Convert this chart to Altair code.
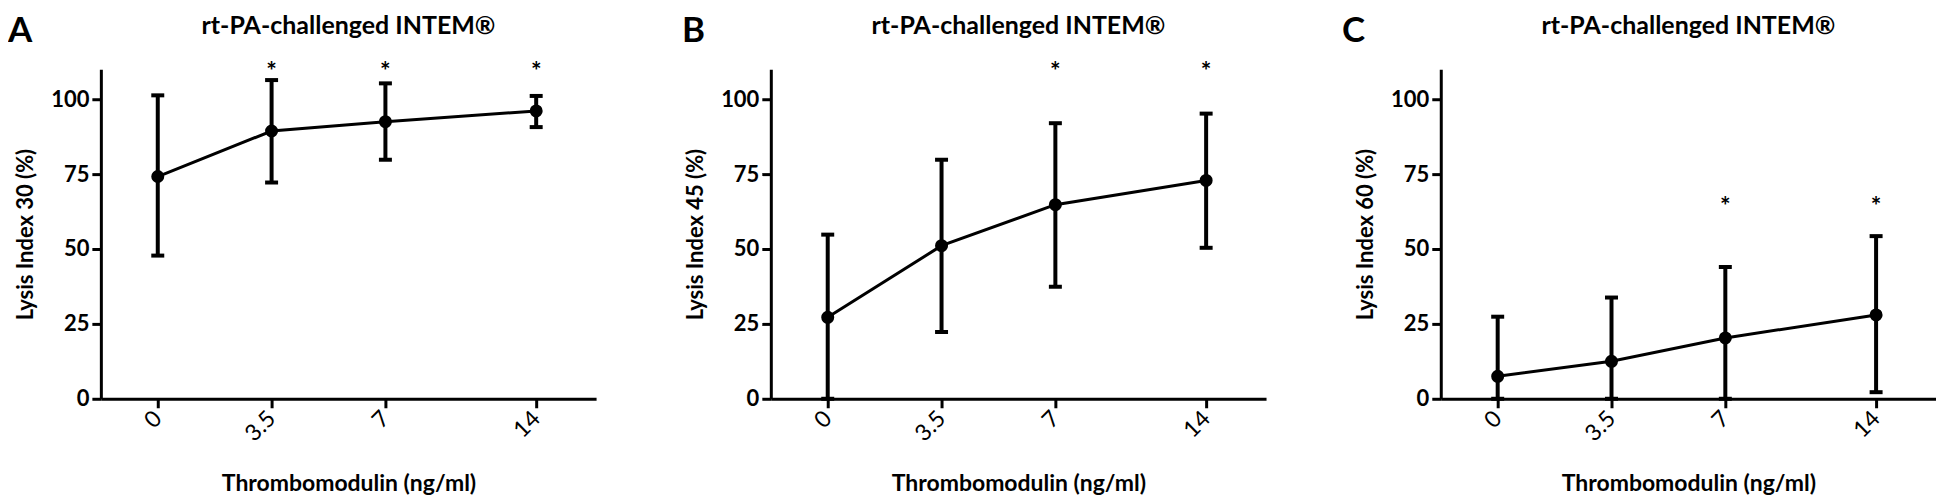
import altair as alt
import pandas as pd

# ---------------- data ----------------
conc = [0, 3.5, 7, 14]

a_mean = [74.2, 89.4, 92.5, 96.1]
a_upper = [101.3, 106.4, 105.3, 101.1]
a_lower = [47.8, 72.2, 79.8, 90.7]
a_stars = [3.5, 7, 14]

b_mean = [27.2, 51.1, 64.8, 72.9]
b_upper = [54.8, 79.8, 92.0, 95.2]
b_lower = [0.0, 22.3, 37.4, 50.4]
b_stars = [7, 14]

c_mean = [7.5, 12.5, 20.3, 28.0]
c_upper = [27.4, 33.8, 44.0, 54.3]
c_lower = [0.0, 0.0, 0.0, 2.2]
c_stars = [7, 14]

star_levels = [109, 109, 64]
panel_letters = ["A", "B", "C"]
y_titles = ["Lysis Index 30 (%)", "Lysis Index 45 (%)", "Lysis Index 60 (%)"]
panel_title = "rt-PA-challenged INTEM\u00ae"
x_title = "Thrombomodulin (ng/ml)"
y_ticks = [0, 25, 50, 75, 100]

# ---------------- layout / style ----------------
W, H = 496, 330
FONT = "Lato"
letter_dx = [-93, -89, -99]


def panel(mean, upper, lower, stars, star_y, letter, ytitle, ldx):
    df = pd.DataFrame({"conc": conc, "mean": mean, "upper": upper, "lower": lower})
    sdf = pd.DataFrame({"conc": stars, "y": [star_y] * len(stars), "s": ["*"] * len(stars)})

    xs = alt.Scale(type="linear", domain=[-1.75, 0, 3.5, 7, 14, 16.8],
                   range=[0, 57, 171, 285, 436, W], nice=False, zero=False)
    ys = alt.Scale(domain=[0, 110], nice=False, zero=False)

    x_axis = alt.Axis(values=conc, format="~g", labelAngle=-45, labelAlign="right",
                      labelBaseline="middle", labelPadding=7, labelFontWeight="normal",
                      labelFontSize=23, title=x_title, titlePadding=27, titleFontSize=23)
    y_axis = alt.Axis(values=y_ticks, labelPadding=3, title=ytitle, titlePadding=13)

    base = alt.Chart(df)
    x = alt.X("conc:Q", scale=xs, axis=x_axis)
    rules = base.mark_rule(color="black", strokeWidth=4).encode(
        x=x, y=alt.Y("lower:Q", scale=ys, axis=y_axis), y2="upper:Q")
    cap_hi = base.mark_tick(color="black", orient="horizontal", size=13, thickness=4, opacity=1).encode(
        x=x, y=alt.Y("upper:Q", scale=ys))
    cap_lo = base.mark_tick(color="black", orient="horizontal", size=13, thickness=4, opacity=1).encode(
        x=x, y=alt.Y("lower:Q", scale=ys))
    line = base.mark_line(color="black", strokeWidth=3).encode(x=x, y=alt.Y("mean:Q", scale=ys))
    pts = base.mark_point(filled=True, color="black", size=170, opacity=1).encode(
        x=x, y=alt.Y("mean:Q", scale=ys))
    st = alt.Chart(sdf).mark_text(fontSize=25, fontWeight="bold", font=FONT, baseline="middle",
                                  color="black").encode(
        x=alt.X("conc:Q", scale=xs), y=alt.Y("y:Q", scale=ys), text="s:N")

    ldf = pd.DataFrame({"t": [letter], "h": [panel_title]})
    let = alt.Chart(ldf).mark_text(fontSize=35, fontWeight="bold", font=FONT, align="left",
                                   baseline="alphabetic", color="black").encode(
        x=alt.value(ldx), y=alt.value(-27), text="t:N")
    ttl = alt.Chart(ldf).mark_text(fontSize=25, fontWeight="bold", font=FONT, align="center",
                                   baseline="alphabetic", color="black").encode(
        x=alt.value(W / 2), y=alt.value(-35), text="h:N")

    return alt.layer(rules, cap_hi, cap_lo, line, pts, st, let, ttl).properties(width=W, height=H)


pA = panel(a_mean, a_upper, a_lower, a_stars, star_levels[0], panel_letters[0], y_titles[0], letter_dx[0])
pB = panel(b_mean, b_upper, b_lower, b_stars, star_levels[1], panel_letters[1], y_titles[1], letter_dx[1])
pC = panel(c_mean, c_upper, c_lower, c_stars, star_levels[2], panel_letters[2], y_titles[2], letter_dx[2])

chart = alt.hconcat(pA, pB, pC, spacing=175, bounds="flush").properties(
    padding={"left": 0, "top": 6, "right": 0, "bottom": 0}
).configure_view(stroke=None).configure_axis(
    grid=False,
    domainColor="black", domainWidth=3,
    tickColor="black", tickWidth=3, tickSize=9,
    labelColor="black", labelFont=FONT, labelFontSize=22, labelFontWeight="bold",
    titleColor="black", titleFont=FONT, titleFontSize=22, titleFontWeight="bold",
)

chart.save("out.html", embed_options={"renderer": "svg", "actions": False})
